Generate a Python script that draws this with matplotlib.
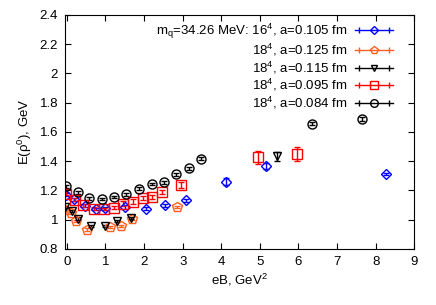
import matplotlib
matplotlib.use('Agg')
import matplotlib.pyplot as plt
from matplotlib.lines import Line2D
from matplotlib.legend_handler import HandlerLine2D

plt.rcParams['font.family'] = ['Liberation Sans', 'DejaVu Sans']
plt.rcParams['font.size'] = 9.5
plt.rcParams['mathtext.fontset'] = 'custom'
plt.rcParams['mathtext.rm'] = 'Liberation Sans'

# 16^4, a=0.105 fm
eb_105 = [-0.03, 0.18, 0.47, 0.75, 1.00, 1.51, 2.04, 2.53, 3.08, 4.13, 5.15, 8.27]
e_105 = [1.17, 1.14, 1.096, 1.073, 1.078, 1.087, 1.075, 1.098, 1.132, 1.26, 1.367, 1.312]
err_105 = [0.01, 0.01, 0.01, 0.01, 0.01, 0.015, 0.01, 0.01, 0.01, 0.025, 0.02, 0.01]

# 18^4, a=0.125 fm
eb_125 = [-0.05, 0.10, 0.23, 0.53, 1.12, 1.40, 1.69, 2.85]
e_125 = [1.064, 1.044, 0.989, 0.932, 0.948, 0.957, 1.007, 1.087]
err_125 = [0.008, 0.008, 0.008, 0.008, 0.008, 0.008, 0.008, 0.008]

# 18^4, a=0.115 fm
eb_115 = [-0.05, 0.12, 0.29, 0.62, 1.00, 1.31, 1.67, 5.44]
e_115 = [1.087, 1.057, 1.007, 0.955, 0.955, 0.989, 1.009, 1.433]
err_115 = [0.008, 0.008, 0.008, 0.008, 0.008, 0.008, 0.008, 0.03]

# 18^4, a=0.095 fm
eb_095 = [-0.03, 0.21, 0.43, 0.71, 0.95, 1.21, 1.45, 1.71, 1.97, 2.21, 2.46, 2.95, 4.95, 5.95]
e_095 = [1.177, 1.137, 1.098, 1.075, 1.073, 1.08, 1.11, 1.123, 1.146, 1.155, 1.187, 1.237, 1.426, 1.449]
err_095 = [0.01, 0.01, 0.01, 0.01, 0.01, 0.01, 0.015, 0.015, 0.015, 0.015, 0.015, 0.02, 0.045, 0.05]

# 18^4, a=0.084 fm
eb_084 = [-0.03, 0.28, 0.58, 0.90, 1.22, 1.54, 1.86, 2.20, 2.51, 2.83, 3.17, 3.47, 6.36, 7.64]
e_084 = [1.228, 1.187, 1.146, 1.141, 1.155, 1.175, 1.212, 1.244, 1.255, 1.31, 1.351, 1.417, 1.656, 1.688]
err_084 = [0.01, 0.01, 0.01, 0.01, 0.01, 0.01, 0.01, 0.01, 0.01, 0.01, 0.01, 0.01, 0.012, 0.012]

labels = ['m$_{\\rm q}$=34.26 MeV: 16$^4$, a=0.105 fm',
          '18$^4$, a=0.125 fm',
          '18$^4$, a=0.115 fm',
          '18$^4$, a=0.095 fm',
          '18$^4$, a=0.084 fm']

series = [
    (eb_105, e_105, err_105, '#0000ff', 'D', 5),
    (eb_125, e_125, err_125, '#ff6020', 'p', 7),
    (eb_115, e_115, err_115, '#000000', 'v', 6),
    (eb_095, e_095, err_095, '#ff0000', 's', 6.5),
    (eb_084, e_084, err_084, '#000000', 'o', 6.5),
]

fig = plt.figure(figsize=(4.36, 3.05), dpi=100)
ax = fig.add_axes([0.149, 0.184, 0.801, 0.767])

handles = []
hmap = {}
for (x, y, e, c, m, ms), lab in zip(series, labels):
    ax.errorbar(x, y, yerr=e, fmt=m, color=c, mfc='none', mec=c, ms=ms,
                mew=1, elinewidth=1, capsize=2, capthick=1)
    ln = Line2D([], [], color=c, marker=m, mfc='none', mec=c, ms=ms - 1, lw=1)
    cap = Line2D([], [], color=c, marker='|', ls='none', ms=4, mew=1)
    hmap[cap] = HandlerLine2D(numpoints=2)
    handles.append((ln, cap))

ax.legend(handles, labels, handler_map=hmap, loc='upper right',
          bbox_to_anchor=(0.955, 0.995), frameon=False, markerfirst=False,
          handlelength=2.9, handletextpad=0.6, labelspacing=0.1,
          borderaxespad=0.0, numpoints=1)

ax.set_xlim(-0.05, 9)
ax.set_ylim(0.8, 2.4)
ax.set_xticks(range(0, 10))
ax.set_yticks([0.8, 1, 1.2, 1.4, 1.6, 1.8, 2, 2.2, 2.4])
ax.set_yticklabels(['0.8', '1', '1.2', '1.4', '1.6', '1.8', '2', '2.2', '2.4'])
ax.tick_params(direction='in', top=True, right=True, length=4, labelsize=9.5, pad=5)
ax.set_xlabel('eB, GeV$^2$', labelpad=3)
ax.set_ylabel('E(ρ$^0$), GeV', labelpad=4)

fig.savefig('out.png', dpi=100)
